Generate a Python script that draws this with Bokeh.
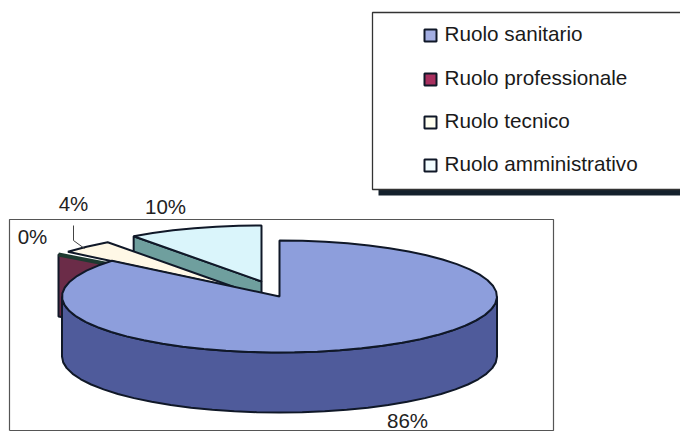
import math
from bokeh.plotting import figure
from bokeh.embed import file_html
from bokeh.resources import INLINE
from bokeh.core.properties import value
from bokeh.models import Range1d

categories = ["Ruolo sanitario", "Ruolo professionale", "Ruolo tecnico", "Ruolo amministrativo"]
shares = [86, 0, 4, 10]
share_labels = ["86%", "0%", "4%", "10%"]

top_colors = ["#8D9EDC", "#2A2F33", "#FFF8E6", "#DAF5FB"]
face_colors = ["#4F5B9B", "#6B2C48", "#FFF8E6", "#6F9F9E"]
legend_colors = ["#A3AEE2", "#A8305F", "#FFFFF0", "#F2FDFF"]
OUT = "#101828"
FONT = value("Liberation Sans")

RX, RY, DEPTH = 217.5, 56, 60
STEP = 6

W, H = 680, 432
p = figure(width=W, height=H, output_backend="svg", toolbar_location=None,
           x_range=Range1d(0, W), y_range=Range1d(H, 0),
           min_border=0, outline_line_color=None, background_fill_color="white",
           border_fill_color="white")
p.xaxis.visible = False
p.yaxis.visible = False
p.grid.visible = False


def arc(cx, cy, a0, a1):
    n = max(1, int(abs(a1 - a0) / STEP))
    pts = [a0 + (a1 - a0) * i / n for i in range(n + 1)]
    return ([cx + RX * math.sin(math.radians(a)) for a in pts],
            [cy - RY * math.cos(math.radians(a)) for a in pts])


def top(cx, cy, a0, a1, color):
    xs, ys = arc(cx, cy, a0, a1)
    p.patch([cx] + xs, [cy] + ys, fill_color=color, line_color=OUT, line_width=2)


def cut_face(cx, cy, a, color):
    x = cx + RX * math.sin(math.radians(a))
    y = cy - RY * math.cos(math.radians(a))
    p.patch([x, cx, cx, x], [y, cy, cy + DEPTH, y + DEPTH],
            fill_color=color, line_color=OUT, line_width=2)


# frame
p.line([9, 9, 553, 553, 9], [430, 219, 219, 430, 430], line_color="#555555", line_width=1.2)

# cumulative angles, clockwise from twelve o'clock
total = sum(shares)
edges = [0]
for s in shares:
    edges.append(edges[-1] + 360 * s / total)

centers = [(279, 296), (243, 290), (235, 287), (261, 281)]

# amministrativo
cut_face(*centers[3], edges[3], face_colors[3])
top(*centers[3], edges[3], edges[4], top_colors[3])
# tecnico
top(*centers[2], edges[2], edges[3], top_colors[2])
# professionale: a zero slice, only its cut face shows
x0 = 58
y0 = 254
p.patch([x0, centers[1][0], centers[1][0], x0], [y0, centers[1][1], centers[1][1] + DEPTH, y0 + DEPTH + 2],
        fill_color=face_colors[1], line_color=OUT, line_width=2)
p.line([x0, centers[1][0]], [y0, centers[1][1]], line_color="#1E3A30", line_width=4)

# sanitario: rim then top
cx, cy = centers[0]
xs, ys = arc(cx, cy, 90, 270)
p.patch(xs + [x for x in reversed(xs)], ys + [y + DEPTH for y in reversed(ys)],
        fill_color=face_colors[0], line_color=OUT, line_width=2)
top(cx, cy, edges[0], edges[1], top_colors[0])

# percentage labels
lab_x = [407, 32, 73, 165]
lab_y = [420, 236, 203, 206]
p.text(lab_x, lab_y, text=share_labels, text_font=FONT, text_font_size="20.5px",
       text_color="#222222", text_align="center", text_baseline="middle")
# leader of the 4% label
p.line([73, 73, 84], [225, 240, 248], line_color="#444444", line_width=1)

# legend box
p.quad(left=[378], right=[690], top=[189], bottom=[195], fill_color="#14202C", line_color=None)
p.quad(left=[372], right=[690], top=[12], bottom=[189], fill_color="white", line_color="#333333", line_width=1.3)
row_y = [35, 79, 122, 165]
p.rect([430] * 4, row_y, width=12, height=12, fill_color=legend_colors, line_color=OUT, line_width=2)
p.text([444] * 4, [y - 2 for y in row_y], text=categories, text_font=FONT, text_font_size="20.7px",
       text_color="#1A1A1A", text_align="left", text_baseline="middle")

open("out.html", "w").write(file_html(p, INLINE))
